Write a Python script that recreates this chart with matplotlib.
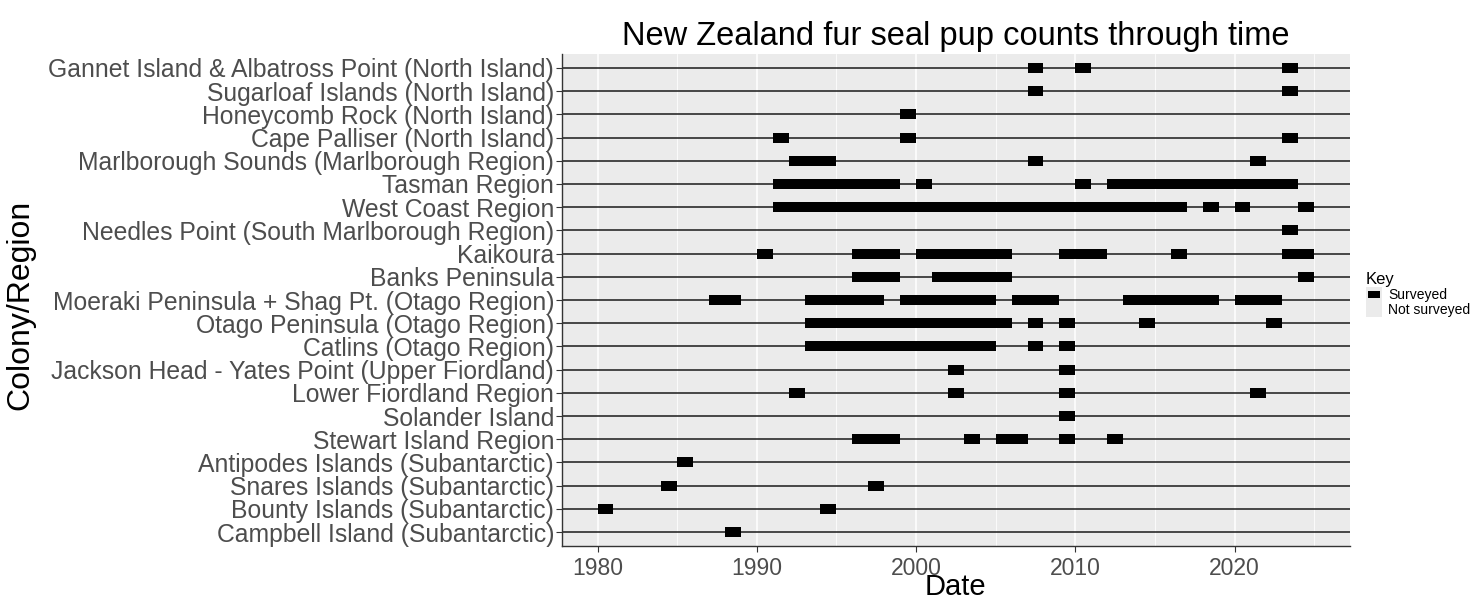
import matplotlib.pyplot as plt
from matplotlib.patches import Patch, Rectangle
from matplotlib.legend_handler import HandlerBase

plt.rcParams['font.family'] = ['Liberation Sans', 'DejaVu Sans']

# colonies, top to bottom
colonies = [
    "Gannet Island & Albatross Point (North Island)",
    "Sugarloaf Islands (North Island)",
    "Honeycomb Rock (North Island)",
    "Cape Palliser (North Island)",
    "Marlborough Sounds (Marlborough Region)",
    "Tasman Region",
    "West Coast Region",
    "Needles Point (South Marlborough Region)",
    "Kaikoura",
    "Banks Peninsula",
    "Moeraki Peninsula + Shag Pt. (Otago Region)",
    "Otago Peninsula (Otago Region)",
    "Catlins (Otago Region)",
    "Jackson Head - Yates Point (Upper Fiordland)",
    "Lower Fiordland Region",
    "Solander Island",
    "Stewart Island Region",
    "Antipodes Islands (Subantarctic)",
    "Snares Islands (Subantarctic)",
    "Bounty Islands (Subantarctic)",
    "Campbell Island (Subantarctic)",
]

# survey periods (start year, end year) for each colony
start_years = [
    [2007, 2010, 2023],
    [2007, 2023],
    [1999],
    [1991, 1999, 2023],
    [1992, 2007, 2021],
    [1991, 2000, 2010, 2012],
    [1991, 2018, 2020, 2024],
    [2023],
    [1990, 1996, 2000, 2009, 2016, 2023],
    [1996, 2001, 2024],
    [1987, 1993, 1999, 2006, 2013, 2020],
    [1993, 2007, 2009, 2014, 2022],
    [1993, 2007, 2009],
    [2002, 2009],
    [1992, 2002, 2009, 2021],
    [2009],
    [1996, 2003, 2005, 2009, 2012],
    [1985],
    [1984, 1997],
    [1980, 1994],
    [1988],
]
end_years = [
    [2008, 2011, 2024],
    [2008, 2024],
    [2000],
    [1992, 2000, 2024],
    [1995, 2008, 2022],
    [1999, 2001, 2011, 2024],
    [2017, 2019, 2021, 2025],
    [2024],
    [1991, 1999, 2006, 2012, 2017, 2025],
    [1999, 2006, 2025],
    [1989, 1998, 2005, 2009, 2019, 2023],
    [2006, 2008, 2010, 2015, 2023],
    [2005, 2008, 2010],
    [2003, 2010],
    [1993, 2003, 2010, 2022],
    [2010],
    [1999, 2004, 2007, 2010, 2013],
    [1986],
    [1985, 1998],
    [1981, 1995],
    [1989],
]

major_years = [1980, 1990, 2000, 2010, 2020]
minor_years = [1985, 1995, 2005, 2015, 2025]


# ggplot-like legend key: grey background, smaller filled square inside
class KeyHandler(HandlerBase):
    def create_artists(self, legend, orig_handle, xdescent, ydescent,
                       width, height, fontsize, trans):
        bg = Rectangle((-xdescent, -ydescent), width, height,
                       facecolor='#EBEBEB', edgecolor='none', transform=trans)
        arts = [bg]
        if orig_handle.get_label() == 'Surveyed':
            arts.append(Rectangle((-xdescent + 0.15 * width, -ydescent + 0.27 * height),
                                  0.7 * width, 0.48 * height,
                                  facecolor='black', edgecolor='none', transform=trans))
        return arts


fig = plt.figure(figsize=(14.77, 6.01), dpi=100)
ax = fig.add_axes([0.3803, 0.0915, 0.5337, 0.8186])
ax.set_facecolor('#EBEBEB')

for i, (s, e) in enumerate(zip(start_years, end_years)):
    ax.axhline(i, color='#1a1a1a', lw=1.1, zorder=2)
    ax.broken_barh([(a, b - a) for a, b in zip(s, e)], (i - 0.215, 0.43),
                   facecolor='black', zorder=3)

ax.set_xlim(1977.75, 2027.25)
ax.set_ylim(len(colonies) - 0.4, -0.6)
ax.set_yticks(range(len(colonies)))
ax.set_yticklabels(colonies)
ax.set_xticks(major_years)
ax.set_xticks(minor_years, minor=True)
ax.grid(axis='x', which='major', color='white', lw=1.1)
ax.grid(axis='x', which='minor', color='white', lw=0.55)
ax.set_axisbelow(True)

for side in ['top', 'right']:
    ax.spines[side].set_visible(False)
for side in ['left', 'bottom']:
    ax.spines[side].set_color('#333333')
    ax.spines[side].set_linewidth(1.0)

ax.tick_params(which='major', length=4, color='#333333', labelcolor='#4D4D4D', pad=1.5)
ax.tick_params(axis='y', labelsize=17.8)
ax.tick_params(axis='x', labelsize=16.5, pad=4)
ax.tick_params(which='minor', length=0)

ax.set_title('New Zealand fur seal pup counts through time', fontsize=23.5, pad=6.5)
ax.set_xlabel('Date', fontsize=21, va='baseline')
ax.xaxis.set_label_coords(0.5, -0.1)
ax.set_ylabel('Colony/Region', fontsize=23)
ax.yaxis.set_label_coords(-0.668, 0.49)

handles = [Patch(facecolor='black', label='Surveyed'),
           Patch(facecolor='#EBEBEB', label='Not surveyed')]
leg = fig.legend(handles=handles, title='Key', loc='upper left',
                 bbox_to_anchor=(1366 / 1477, 1 - 272 / 601), frameon=False,
                 fontsize=10, title_fontsize=12, handlelength=1.15, handleheight=1.3,
                 handletextpad=0.45, labelspacing=0.0, borderaxespad=0, borderpad=0,
                 handler_map={Patch: KeyHandler()})
leg._legend_box.align = 'left'

fig.savefig('out.png', dpi=100)
